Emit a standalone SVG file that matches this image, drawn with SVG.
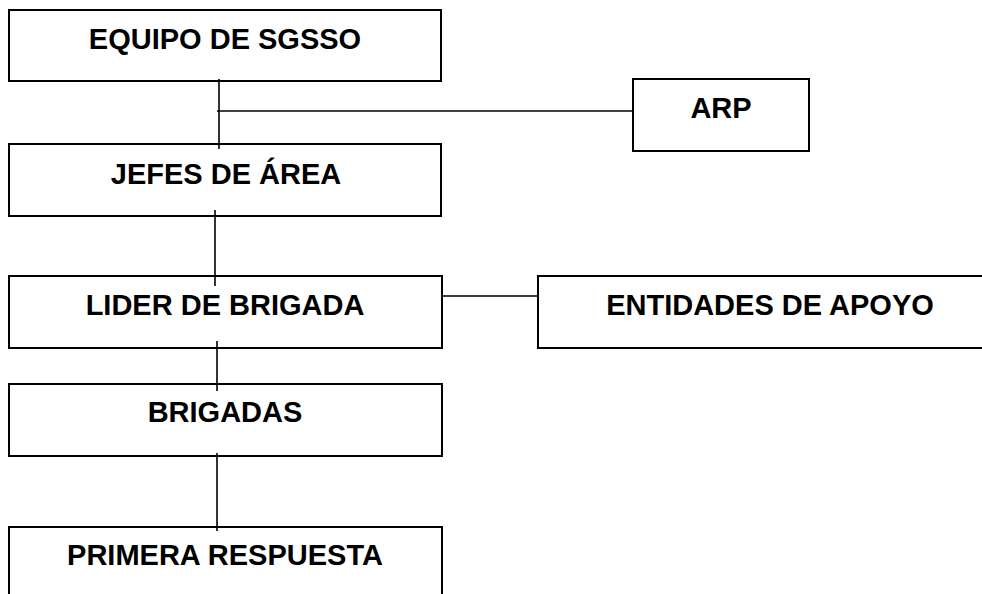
<svg xmlns="http://www.w3.org/2000/svg" width="982" height="594" viewBox="0 0 982 594">
<style>
.box{fill:#ffffff;stroke:#000000;stroke-width:2}
.lbl{font-family:"Liberation Sans",Arial,sans-serif;font-weight:bold;font-size:29px;fill:#000000;text-anchor:middle}
.con{stroke:#000000;stroke-width:1.6;fill:none}
</style>
<rect width="982" height="594" fill="#ffffff"/>
<g id="connectors">
<line class="con" x1="219" y1="79" x2="219" y2="149"/>
<line class="con" x1="217" y1="111" x2="633" y2="111"/>
<line class="con" x1="215" y1="210" x2="215" y2="286"/>
<line class="con" x1="442" y1="296" x2="538" y2="296"/>
<line class="con" x1="217" y1="341" x2="217" y2="391"/>
<line class="con" x1="217" y1="453" x2="217" y2="531"/>
</g>
<g id="equipo">
<rect class="box" x="9" y="10" width="432" height="71" fill-opacity="0"/>
<text class="lbl" x="225" y="49">EQUIPO DE SGSSO</text>
</g>
<g id="arp">
<rect class="box" x="633" y="79" width="176" height="72"/>
<text class="lbl" x="721" y="118">ARP</text>
</g>
<g id="jefes">
<rect class="box" x="9" y="144" width="432" height="72" fill-opacity="0"/>
<text class="lbl" x="226" y="184">JEFES DE ÁREA</text>
</g>
<g id="lider">
<rect class="box" x="9" y="276" width="433" height="72" fill-opacity="0"/>
<text class="lbl" x="225" y="315">LIDER DE BRIGADA</text>
</g>
<g id="entidades">
<rect class="box" x="538" y="276" width="464" height="72"/>
<text class="lbl" x="770" y="315">ENTIDADES DE APOYO</text>
</g>
<g id="brigadas">
<rect class="box" x="9" y="384" width="433" height="72" fill-opacity="0"/>
<text class="lbl" x="225" y="422">BRIGADAS</text>
</g>
<g id="primera">
<rect class="box" x="9" y="527" width="433" height="74" fill-opacity="0"/>
<text class="lbl" x="225" y="565">PRIMERA RESPUESTA</text>
</g>
</svg>
